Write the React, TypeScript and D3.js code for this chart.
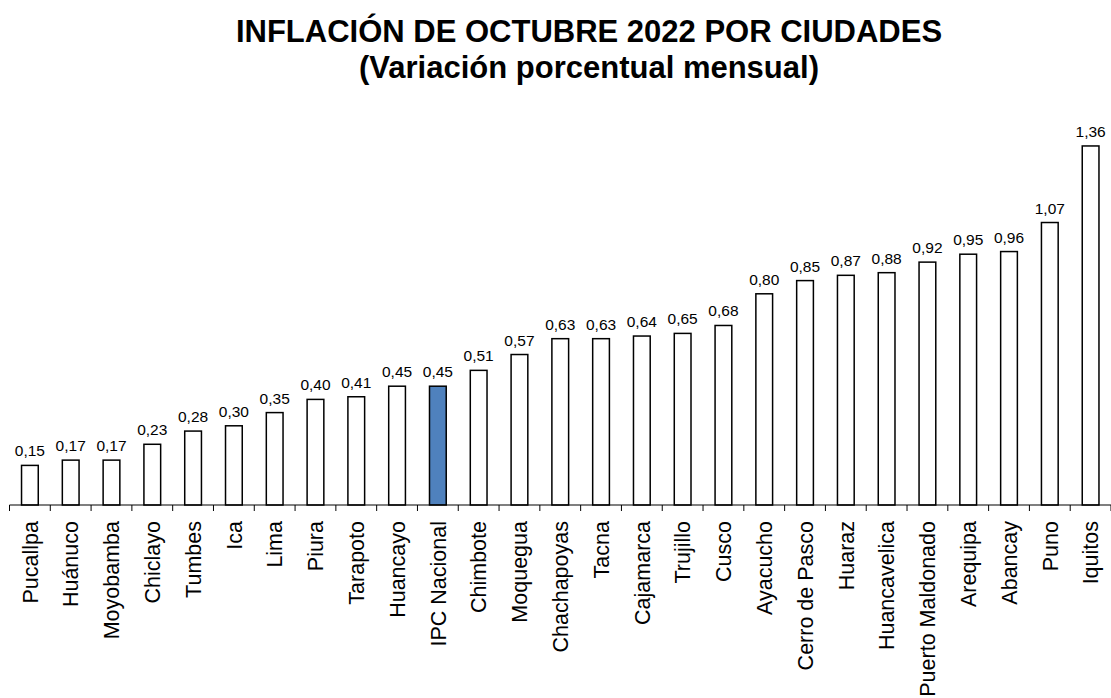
import React from "react";
import * as d3 from "d3";

const categories = [
  "Pucallpa", "Huánuco", "Moyobamba", "Chiclayo", "Tumbes", "Ica", "Lima", "Piura",
  "Tarapoto", "Huancayo", "IPC Nacional", "Chimbote", "Moquegua", "Chachapoyas", "Tacna",
  "Cajamarca", "Trujillo", "Cusco", "Ayacucho", "Cerro de Pasco", "Huaraz", "Huancavelica",
  "Puerto Maldonado", "Arequipa", "Abancay", "Puno", "Iquitos",
];
const values = [
  0.15, 0.17, 0.17, 0.23, 0.28, 0.30, 0.35, 0.40, 0.41, 0.45, 0.45, 0.51, 0.57, 0.63, 0.63,
  0.64, 0.65, 0.68, 0.80, 0.85, 0.87, 0.88, 0.92, 0.95, 0.96, 1.07, 1.36,
];
const highlight = "IPC Nacional";
const titleLines = ["INFLACIÓN DE OCTUBRE 2022 POR CIUDADES", "(Variación porcentual mensual)"];

const W = 1111;
const H = 698;
const FONT = "'Liberation Sans', Arial, Helvetica, sans-serif";

export default function App() {
  const x = d3
    .scaleBand<string>()
    .domain(categories)
    .range([9.5, 1111])
    .paddingInner(0.59)
    .paddingOuter(0.295);
  const y = d3.scaleLinear().domain([0, 1.4]).range([505, 135.4]);
  const bw = x.bandwidth();
  const step = x.step();
  const fmt = (v: number) => v.toFixed(2).replace(".", ",");
  const boundaries = d3.range(categories.length + 1).map((i) => x.range()[0] + i * step);

  return (
    <svg
      width={W}
      height={H}
      style={{ position: "absolute", left: 0, top: 0, background: "#fff" }}
      fontFamily={FONT}
    >
      <rect x={0} y={0} width={W} height={H} fill="#fff" />
      {titleLines.map((t, i) => (
        <text
          key={i}
          x={589}
          y={i === 0 ? 42 : 78}
          textAnchor="middle"
          fontWeight="bold"
          fontSize={31}
          fill="#000"
        >
          {t}
        </text>
      ))}
      {categories.map((c, i) => {
        const v = values[i];
        const x0 = x(c)!;
        return (
          <g key={c}>
            <rect
              x={x0}
              y={y(v)}
              width={bw}
              height={y(0) - y(v)}
              fill={c === highlight ? "#4f81bd" : "#fff"}
              stroke="#000"
              strokeWidth={1.5}
            />
            <text
              x={x0 + bw / 2}
              y={y(v) - 9}
              textAnchor="middle"
              fontSize={15.5}
              fill="#000"
            >
              {fmt(v)}
            </text>
            <text
              transform={`translate(${x0 + bw / 2},521) rotate(-90)`}
              textAnchor="end"
              dy="0.36em"
              fontSize={21.5}
              fill="#000"
            >
              {c}
            </text>
          </g>
        );
      })}
      <line x1={boundaries[0]} x2={boundaries[boundaries.length - 1]} y1={505} y2={505} stroke="#000" strokeWidth={1.2} />
      {boundaries.map((b, i) => (
        <line key={i} x1={b} x2={b} y1={505} y2={511} stroke="#000" strokeWidth={1} />
      ))}
    </svg>
  );
}
